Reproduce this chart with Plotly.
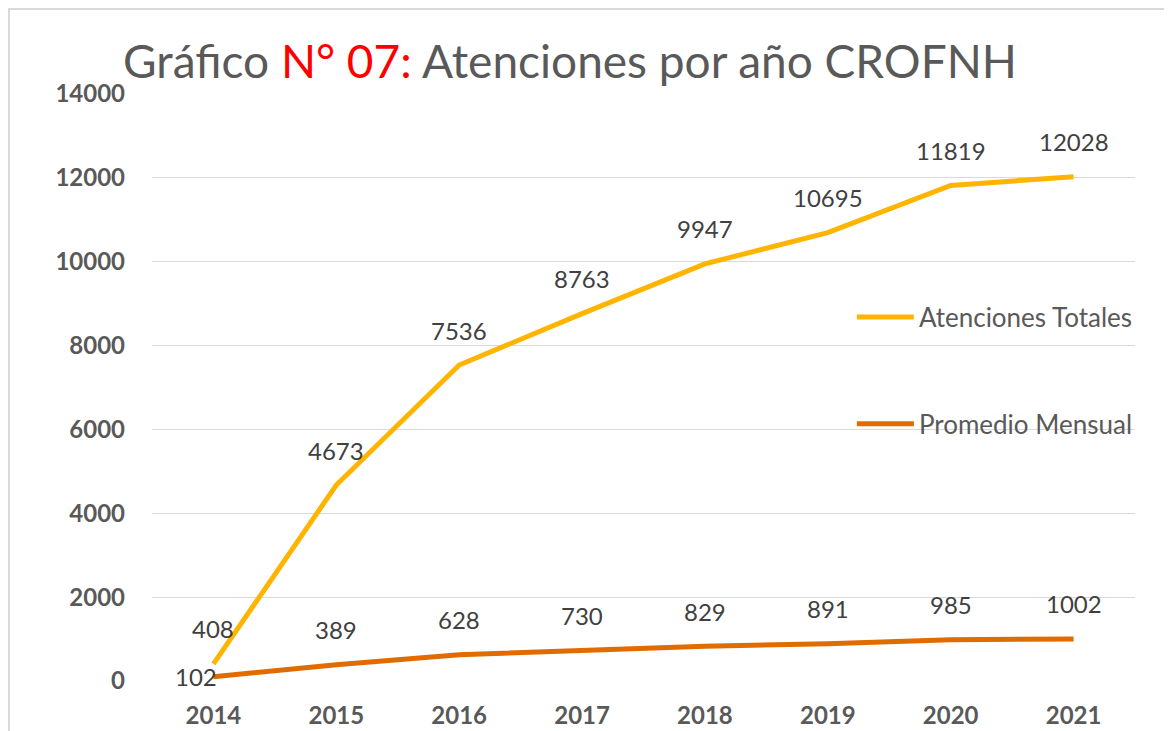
import plotly.graph_objects as go

years = ["2014", "2015", "2016", "2017", "2018", "2019", "2020", "2021"]
atenciones_totales = [408, 4673, 7536, 8763, 9947, 10695, 11819, 12028]
promedio_mensual = [102, 389, 628, 730, 829, 891, 985, 1002]
y_ticks = [0, 2000, 4000, 6000, 8000, 10000, 12000, 14000]

YELLOW = "#FFB400"
ORANGE = "#E06C00"
FONT = "Lato"

fig = go.Figure()
fig.add_trace(go.Scatter(x=years, y=atenciones_totales, mode="lines",
                         name="Atenciones Totales", legendgroup="a",
                         line=dict(color=YELLOW, width=5)))
fig.add_trace(go.Scatter(x=years, y=promedio_mensual, mode="lines",
                         name="Promedio Mensual", legendgroup="b",
                         line=dict(color=ORANGE, width=5)))

annotations = []
for s_idx, series in enumerate((atenciones_totales, promedio_mensual)):
    for i, v in enumerate(series):
        xs, ys = 0, 35
        if s_idx == 1 and i == 0:
            xs, ys = -17, 0
        annotations.append(dict(x=i, y=v, xref="x", yref="y", text=str(v),
                                showarrow=False, xshift=xs, yshift=ys,
                                font=dict(family=FONT, size=24, color="#404040")))

fig.update_layout(
    width=1164, height=723,
    paper_bgcolor="white", plot_bgcolor="white",
    margin=dict(l=144, r=37, t=86, b=50),
    font=dict(family=FONT, color="#595959"),
    title=dict(
        text="Gráfico <span style='color:#FF0000'>N° 07:</span> Atenciones por año CROFNH",
        x=0.4828, xref="container", xanchor="center",
        y=1 - 54 / 723, yref="container", yanchor="middle",
        font=dict(family=FONT, size=46, color="#595959")),
    xaxis=dict(type="category", range=[-0.5, 7.5], showgrid=False,
               showline=False, zeroline=False, ticks="", automargin=False,
               ticklabelstandoff=18,
               tickfont=dict(family=FONT, size=24, color="#595959", weight="bold")),
    yaxis=dict(range=[0, 14000], tickvals=y_ticks, tickformat="d",
               showgrid=True, gridcolor="#D9D9D9", gridwidth=1, zeroline=False,
               showline=False, ticks="", ticklabelstandoff=26, automargin=False,
               tickfont=dict(family=FONT, size=24, color="#595959", weight="bold")),
    legend=dict(x=0.712, xanchor="left", y=0.660, yanchor="top",
                bgcolor="rgba(0,0,0,0)", itemwidth=57, tracegroupgap=70,
                traceorder="grouped",
                font=dict(family=FONT, size=26, color="#595959")),
    annotations=annotations,
    shapes=[dict(type="rect", xref="paper", yref="paper",
                 x0=-0.1455, x1=1.3, y0=-0.3, y1=1 + 85 / 587,
                 line=dict(color="#D9D9D9", width=2), layer="below")],
)

fig.write_html("out.html")
